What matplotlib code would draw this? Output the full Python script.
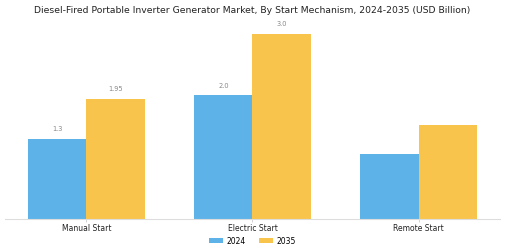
import matplotlib
matplotlib.use("Agg")
import matplotlib.pyplot as plt
import numpy as np

categories = ["Manual Start", "Electric Start", "Remote Start"]
years = ["2024", "2035"]
values_2024 = [1.3, 2.0, 1.05]
values_2035 = [1.95, 3.0, 1.52]
labels_2024 = ["1.3", "2.0", None]
labels_2035 = ["1.95", "3.0", None]
colors = ["#5DB3E8", "#F9C44C"]

fig = plt.figure(figsize=(5.05, 2.53), dpi=100)
ax = fig.add_axes([0.01, 0.13, 0.98, 0.77])

x = np.arange(len(categories))
w = 0.35
b1 = ax.bar(x - w/2, values_2024, w, color=colors[0], label=years[0])
b2 = ax.bar(x + w/2, values_2035, w, color=colors[1], label=years[1])

for bars, labs in ((b1, labels_2024), (b2, labels_2035)):
    for r, lab in zip(bars, labs):
        if lab:
            ax.text(r.get_x() + r.get_width()/2, r.get_height() + 0.12, lab,
                    ha="center", va="bottom", fontsize=4.8, color="#888888")

ax.set_xlim(-0.49, 2.49)
ax.set_ylim(0, 3.15)
ax.set_xticks(x)
ax.set_xticklabels(categories, fontsize=5.5, color="#222222")
ax.tick_params(axis="x", length=2, width=0.6, color="#cccccc", pad=0.5)
ax.set_yticks([])
for s in ("top", "right", "left"):
    ax.spines[s].set_visible(False)
ax.spines["bottom"].set_color("#dddddd")
ax.spines["bottom"].set_linewidth(0.8)

fig.suptitle("Diesel-Fired Portable Inverter Generator Market, By Start Mechanism, 2024-2035 (USD Billion)",
             fontsize=6.7, y=0.975, color="#222222")
fig.legend(handles=[b1, b2], labels=years, loc="lower center", bbox_to_anchor=(0.5, 0.0),
           ncol=2, frameon=False, fontsize=5.5, handlelength=1.85, handleheight=0.6,
           handletextpad=0.5, columnspacing=1.7)
fig.savefig("out.png", dpi=100)
